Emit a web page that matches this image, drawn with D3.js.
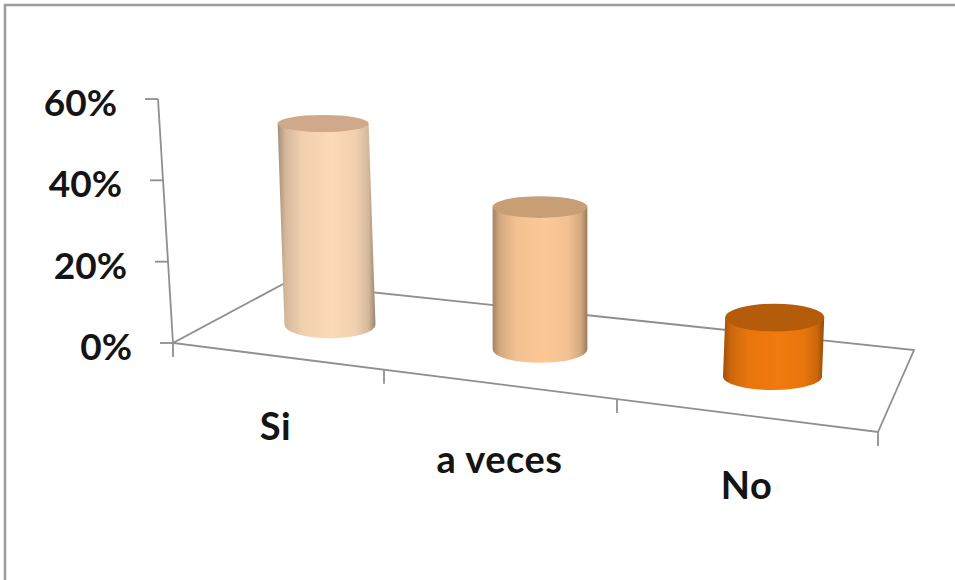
<!DOCTYPE html>
<meta charset="utf-8">
<style>
html,body{
	margin:0;
	background:#fff;
}
svg{
	display:block;
}
text{
	font-family:Lato,"Open Sans",sans-serif;
	font-weight:700;
	font-size:37px;
	fill:#141414;
}
.category{
	font-size:38px;
	letter-spacing:0.5px;
}
.frame{
	fill:none;
	stroke:#9c9c9c;
	stroke-width:2.5px;
}
.wall,.floor,.axis line{
	fill:none;
	stroke:#8f8f8f;
	stroke-width:1.8px;
}
</style>
<body>
<script src="https://d3js.org/d3.v7.min.js"></script>
<script>

var categories=['Si','a veces','No'];
var values=[49.5,35,14.5];
var valueTicks=[0,20,40,60];
var bodyColors=['#fcd9b7','#fdc897','#f27a0e'];
var topColors=['#cfa98a','#c89e75','#b55c0a'];

var svg=d3.select("body").append("svg").attr("width",955).attr("height",580);

// the floor is a slanted quad, so one category scale along each long edge
var slots=[0,1,2,3];
var xFront=d3.scaleLinear().domain(slots).range([173,384,617,878]);
var xBack=d3.scaleLinear().domain(slots).range([285,478,681,914]);
var yFront=d3.scaleLinear().domain([173,878]).range([343,432]);
var yBack=d3.scaleLinear().domain([285,914]).range([283,350]);

// value axis leans left as it goes up
var yValue=d3.scaleLinear().domain([0,60]).range([343,99]);
var xValue=d3.scaleLinear().domain([0,60]).range([173,158]);
var barHeight=d3.scaleLinear().domain([0,60]).range([0,244]);

// perspective on the cylinders: lean and ellipse sizes change across the chart
var lean=d3.scaleLinear().domain([165,541]).range([-0.061,0]);
var rx=d3.scaleLinear().domain([331,773]).range([45.5,49.5]);
var ry=d3.scaleLinear().domain([122,320]).range([8.5,14]);

// hand nudges for the category names, dx then dy from the front edge
var labelNudge=[[-3,84],[-1,89],[-1,83]];

function floorPoint(t,depth){
	var xf=xFront(t),xb=xBack(t);
	return [
		xf+(xb-xf)*depth,
		yFront(xf)+(yBack(xb)-yFront(xf))*depth
	];
}

svg.append("path").attr("class","frame").attr("d","M5,580V5H955");

// floor outline and the wall edge
var line=d3.line();
svg.append("path").attr("class","floor")
	.attr("d",line([floorPoint(0,1),floorPoint(0,0),floorPoint(3,0),floorPoint(3,1),floorPoint(0,1)]));
svg.append("path").attr("class","wall")
	.attr("d",line([[xValue(0),yValue(0)],[xValue(60),yValue(60)]]));

var gValue=svg.append("g").attr("class","axis")
	.call(d3.axisLeft(yValue).tickValues(valueTicks).tickSize(13).tickPadding(28).tickFormat(d=>d+"%"));
gValue.select(".domain").remove();
gValue.selectAll(".tick").attr("transform",d=>"translate("+xValue(d)+","+yValue(d)+")");
gValue.selectAll("text").attr("dy","0.46em");
gValue.attr("font-size",null).attr("font-family",null);

var gSlots=svg.append("g").attr("class","axis")
	.call(d3.axisBottom(xFront).tickValues(slots).tickSize(14).tickFormat(""));
gSlots.select(".domain").remove();
gSlots.selectAll(".tick").attr("transform",d=>"translate("+xFront(d)+","+yFront(xFront(d))+")");

var defs=svg.append("defs");
var bars=categories.map(function(name,i){
	var base=floorPoint(i+0.5,0.5);
	var h=barHeight(values[i]);
	return {
		name:name,i:i,
		baseX:base[0],baseY:base[1],
		topX:base[0]+lean(base[0])*h,topY:base[1]-h,
		r:rx(base[0])
	};
});

bars.forEach(function(d){
	var c=bodyColors[d.i];
	var mid=d3.interpolateRgb(d3.rgb(c).darker(1.2),c);
	var stops=[[0,mid(0)],[0.08,mid(0.55)],[0.25,mid(0.88)],[0.55,c],[0.8,mid(0.88)],[0.93,mid(0.55)],[1,d3.rgb(c).darker(1.4)]];
	defs.append("linearGradient").attr("id","body"+d.i)
		.selectAll("stop").data(stops).join("stop")
		.attr("offset",s=>s[0])
		.attr("stop-color",s=>s[1]);
});

var cyl=svg.selectAll(".cylinder").data(bars).join("g").attr("class","cylinder");

cyl.append("path")
	.attr("fill",d=>"url(#body"+d.i+")")
	.attr("d",function(d){
		var bry=13.5,L=d.baseX-d.r,R=d.baseX+d.r;
		return "M"+(d.topX-d.r)+","+d.topY+
			"L"+L+","+d.baseY+
			"A"+d.r+","+bry+" 0 0 0 "+R+","+d.baseY+
			"L"+(d.topX+d.r)+","+d.topY+"Z";
	});

cyl.append("ellipse")
	.attr("cx",d=>d.topX)
	.attr("cy",d=>d.topY)
	.attr("rx",d=>d.r)
	.attr("ry",d=>ry(d.topY))
	.attr("fill",d=>topColors[d.i]);

// category names hang below the front edge of the floor
svg.selectAll(".category").data(bars).join("text")
	.attr("class","category")
	.attr("text-anchor","middle")
	.attr("x",d=>xFront(d.i+0.5)+labelNudge[d.i][0])
	.attr("y",d=>yFront(xFront(d.i+0.5))+labelNudge[d.i][1])
	.text(d=>d.name);

</script>
</body>
</html>
